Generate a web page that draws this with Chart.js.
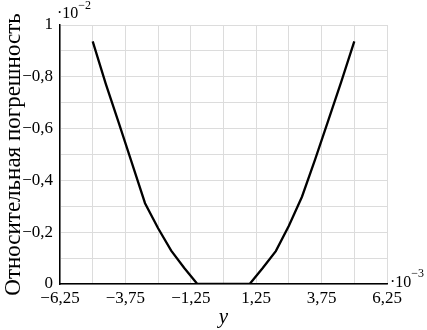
<!DOCTYPE html>
<html>
<head>
<meta charset="utf-8">
<script src="https://cdn.jsdelivr.net/npm/chart.js@4/dist/chart.umd.min.js"></script>
<style>
html,body{margin:0;padding:0;background:#fff;}
#wrap{position:relative;width:427px;height:330px;}
</style>
</head>
<body>
<div id="wrap"><canvas id="c" width="427" height="330"></canvas></div>
<script>
// x in units of 1e-3, y in units of 1e-2
const xValues = [-5, -4.5, -4, -3.5, -3, -2.5, -2, -1.5, -1, 0, 1, 1.5, 2, 2.5, 3, 3.5, 4, 4.5, 5];
const yValues = [0.937, 0.773, 0.621, 0.467, 0.312, 0.215, 0.129, 0.062, 0, 0, 0, 0.062, 0.127, 0.225, 0.337, 0.48, 0.63, 0.78, 0.937];
const yTickLabels = ["0", "\u22120,2", "\u22120,4", "\u22120,6", "\u22120,8", "1"];
const xTickLabels = ["\u22126,25", "\u22123,75", "\u22121,25", "1,25", "3,75", "6,25"];
const xTitle = "y";
const yTitle = "Относительная погрешность";
const xMultiplier = ["\u00b710", "\u22123"];
const yMultiplier = ["\u00b710", "\u22122"];

const FONT = "'Liberation Serif', 'Times New Roman', serif";

const multPlugin = {
  id: 'mult',
  afterDraw(chart) {
    const ctx = chart.ctx;
    const ca = chart.chartArea;
    ctx.save();
    ctx.fillStyle = '#000';
    ctx.textBaseline = 'alphabetic';
    ctx.textAlign = 'left';
    ctx.font = '16px ' + FONT;
    ctx.fillText(yMultiplier[0], ca.left - 3, ca.top - 7);
    let w = ctx.measureText(yMultiplier[0]).width;
    ctx.font = '12px ' + FONT;
    ctx.fillText(yMultiplier[1], ca.left - 3 + w, ca.top - 16);
    ctx.font = '16px ' + FONT;
    ctx.fillText(xMultiplier[0], ca.right + 3, ca.bottom + 3);
    w = ctx.measureText(xMultiplier[0]).width;
    ctx.font = '12px ' + FONT;
    ctx.fillText(xMultiplier[1], ca.right + 3 + w, ca.bottom - 7);
    ctx.restore();
  }
};

new Chart(document.getElementById('c'), {
  type: 'line',
  data: {
    datasets: [{
      data: xValues.map((x, i) => ({x: x, y: yValues[i]})),
      borderColor: '#000',
      borderWidth: 2.3,
      pointRadius: 0,
      tension: 0,
      fill: false
    }]
  },
  options: {
    responsive: false,
    animation: false,
    layout: {padding: {top: 25, right: 40, left: 0, bottom: 0}},
    plugins: {legend: {display: false}, tooltip: {enabled: false}},
    scales: {
      x: {
        type: 'linear',
        min: -6.25, max: 6.25,
        afterBuildTicks(scale) {
          const t = [];
          for (let k = 0; k <= 10; k++) t.push({value: -6.25 + 1.25 * k});
          scale.ticks = t;
        },
        afterFit(scale) { scale.height = 46; },
        grid: {color: '#dcdcdc', lineWidth: 1, drawTicks: false},
        border: {color: '#000', width: 1.5},
        ticks: {
          autoSkip: false, maxRotation: 0, padding: 4,
          color: '#000',
          font: {family: FONT, size: 17},
          callback: (v, i) => (i % 2 === 0 ? xTickLabels[i / 2] : '')
        },
        title: {
          display: true, text: xTitle, color: '#000',
          font: {family: FONT, size: 21, style: 'italic'},
          padding: {top: -2, bottom: 0}
        }
      },
      y: {
        type: 'linear',
        min: 0, max: 1,
        afterBuildTicks(scale) {
          const t = [];
          for (let k = 0; k <= 10; k++) t.push({value: k / 10});
          scale.ticks = t;
        },
        afterFit(scale) { scale.width = 60; },
        grid: {color: '#dcdcdc', lineWidth: 1, drawTicks: false},
        border: {color: '#000', width: 1.5},
        ticks: {
          autoSkip: false, padding: 7,
          color: '#000',
          font: {family: FONT, size: 17},
          callback: (v, i) => (i % 2 === 0 ? yTickLabels[i / 2] : '')
        },
        title: {
          display: true, text: yTitle, color: '#000',
          font: {family: FONT, size: 23},
          padding: {top: 0, bottom: 0}
        }
      }
    }
  },
  plugins: [multPlugin]
});
</script>
</body>
</html>
